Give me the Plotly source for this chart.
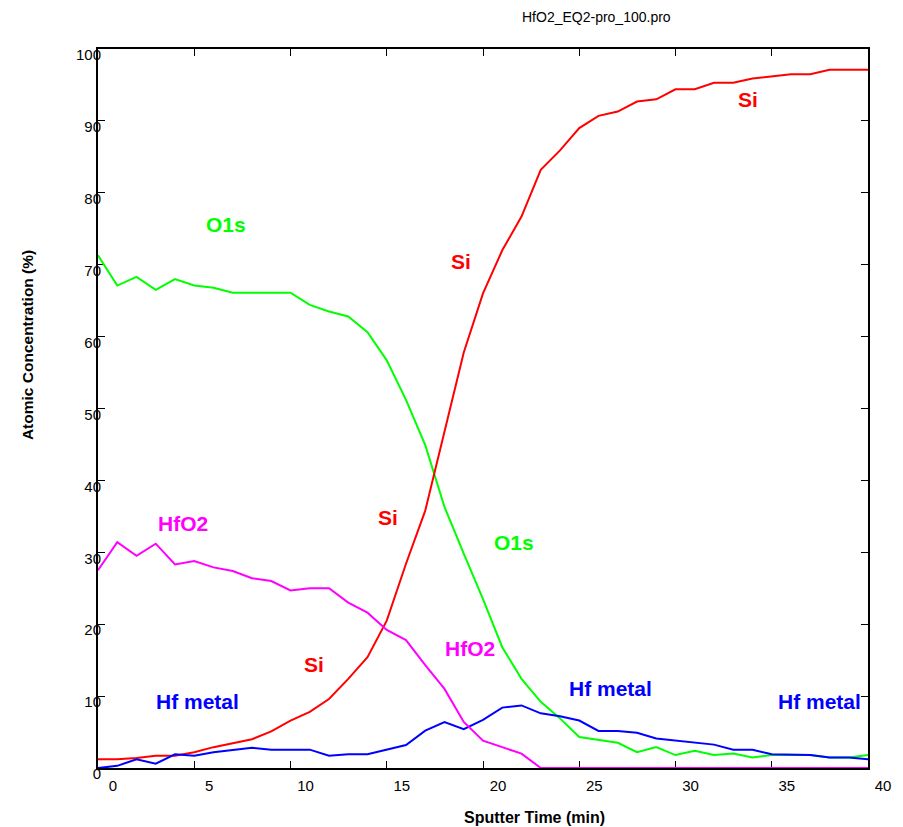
import plotly.graph_objects as go

# ---------- data read from the depth profile ----------
sputter_time = list(range(0, 41))

si = [1.2, 1.2, 1.4, 1.7, 1.7, 2.2, 2.9, 3.5, 4.0, 5.1,
      6.6, 7.8, 9.6, 12.4, 15.4, 20.5, 28.4, 35.8, 46.8, 57.8,
      66.0, 72.0, 76.7, 83.2, 85.9, 89.0, 90.7, 91.3, 92.7, 93.0,
      94.4, 94.4, 95.3, 95.3, 95.9, 96.2, 96.5, 96.5, 97.1, 97.1,
      97.1]

o1s = [71.3, 67.1, 68.3, 66.5, 68.0, 67.1, 66.8, 66.1, 66.1, 66.1,
       66.1, 64.4, 63.5, 62.8, 60.6, 56.7, 51.2, 44.9, 36.3, 29.8,
       23.5, 16.8, 12.4, 9.2, 6.9, 4.3, 3.85, 3.5, 2.2, 2.9,
       1.8, 2.4, 1.8, 2.0, 1.45, 1.8, 1.8, 1.8, 1.45, 1.45,
       1.8]

hfo2 = [27.5, 31.4, 29.5, 31.2, 28.3, 28.8, 27.9, 27.4, 26.4, 26.0,
        24.7, 25.0, 25.0, 23.0, 21.6, 19.2, 17.8, 14.3, 11.0, 6.4,
        3.8, 2.9, 2.0, 0, 0, 0, 0, 0, 0, 0,
        0, 0, 0, 0, 0, 0, 0, 0, 0, 0,
        0]

hf_metal = [0, 0.3, 1.2, 0.6, 1.9, 1.7, 2.2, 2.5, 2.8, 2.55,
            2.55, 2.55, 1.7, 1.9, 1.9, 2.5, 3.2, 5.2, 6.4, 5.4,
            6.7, 8.4, 8.7, 7.6, 7.2, 6.6, 5.15, 5.15, 4.9, 4.1,
            3.8, 3.5, 3.25, 2.55, 2.55, 1.9, 1.8, 1.8, 1.45, 1.45,
            1.2]

x_ticks = [0, 5, 10, 15, 20, 25, 30, 35, 40]
y_ticks = [0, 10, 20, 30, 40, 50, 60, 70, 80, 90, 100]

# in-plot labels: text, time, concentration, colour
label_text = ["O1s", "O1s", "Si", "Si", "Si", "Si",
              "HfO2", "HfO2", "Hf metal", "Hf metal", "Hf metal"]
label_x = [6.64, 21.63, 18.84, 33.77, 15.06, 11.24,
           4.42, 19.35, 5.19, 26.64, 37.5]
label_y = [75.6, 31.4, 70.5, 93.0, 34.9, 14.4,
           34.0, 16.6, 9.3, 11.1, 9.2]

RED = "#FF0000"
GREEN = "#00FF00"
MAGENTA = "#FF00FF"
BLUE = "#0000FF"
label_color = [GREEN, GREEN, RED, RED, RED, RED,
               MAGENTA, MAGENTA, BLUE, BLUE, BLUE]

FONT = "Liberation Sans, Arial, sans-serif"


def build_figure():
    fig = go.Figure()

    # ---------- curves ----------
    for name, values, color in [
        ("O1s", o1s, GREEN),
        ("Si", si, RED),
        ("Hf metal", hf_metal, BLUE),
        ("HfO2", hfo2, MAGENTA),
    ]:
        fig.add_trace(go.Scatter(
            x=sputter_time,
            y=values,
            mode="lines",
            name=name,
            line=dict(color=color, width=2),
        ))

    # ---------- curve labels ----------
    for text, x, y, color in zip(label_text, label_x, label_y, label_color):
        fig.add_annotation(
            x=x, y=y, xref="x", yref="y",
            xanchor="center", yanchor="middle",
            text="<b>%s</b>" % text,
            showarrow=False,
            font=dict(family=FONT, size=21, color=color),
        )

    # ---------- title + axis titles ----------
    fig.add_annotation(
        x=0.648, y=1.0445, xref="paper", yref="paper",
        xanchor="center", yanchor="middle",
        text="HfO2_EQ2-pro_100.pro", showarrow=False,
        font=dict(family=FONT, size=14, color="black"),
    )
    fig.add_annotation(
        x=0.567, y=-0.0686, xref="paper", yref="paper",
        xanchor="center", yanchor="middle",
        text="<b>Sputter Time (min)</b>", showarrow=False,
        font=dict(family=FONT, size=16, color="black"),
    )
    fig.add_annotation(
        x=-0.0924, y=0.588, xref="paper", yref="paper",
        xanchor="center", yanchor="middle",
        text="<b>Atomic Concentration (%)</b>", showarrow=False,
        textangle=-90,
        font=dict(family=FONT, size=15.5, color="black"),
    )

    axis_common = dict(
        showline=True, linecolor="black", linewidth=2,
        mirror="ticks", ticks="inside", ticklen=7, tickwidth=1,
        tickcolor="black", showgrid=False, zeroline=False,
        layer="below traces",
        tickfont=dict(family=FONT, size=15, color="black"),
    )

    fig.update_xaxes(
        range=[0, 40], tickvals=x_ticks,
        ticklabelshift=15, ticklabelstandoff=3, **axis_common,
    )
    fig.update_yaxes(
        range=[0, 100], tickvals=y_ticks,
        ticklabelshift=6, ticklabelstandoff=-8, **axis_common,
    )

    # page body adds 8px, so the figure is 8px smaller
    fig.update_layout(
        width=895, height=819,
        margin=dict(l=90, r=31, t=41, b=59),
        paper_bgcolor="white", plot_bgcolor="white",
        showlegend=False,
        font=dict(family=FONT),
    )
    return fig


fig = build_figure()
fig.write_html("out.html")
